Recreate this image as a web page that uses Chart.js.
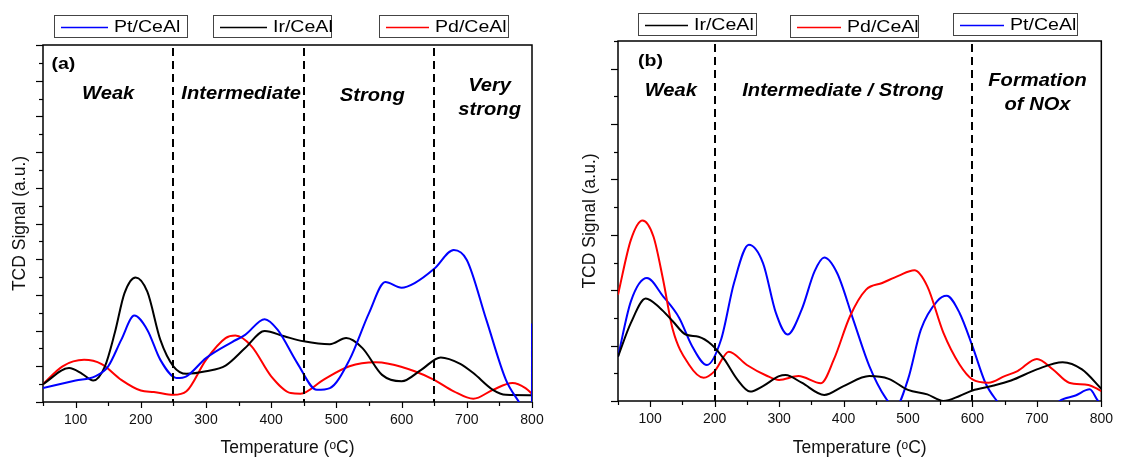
<!DOCTYPE html>
<html lang="en">
<head>
<meta charset="UTF-8" />
<title>TCD profiles</title>
<style>
  body { margin: 0; background: #fff; }
  #wrap { position: relative; width: 1123px; height: 457px; overflow: hidden; }
  #chart-a { position: absolute; left: 0; top: 0; width: 560px; height: 457px; }
  #chart-b { position: absolute; left: 560px; top: 0; width: 563px; height: 457px; }
</style>
</head>
<body>
<div id="wrap">
  <canvas id="chart-a" width="560" height="457"></canvas>
  <canvas id="chart-b" width="563" height="457"></canvas>
</div>
<script src="https://cdn.jsdelivr.net/npm/chart.js@4.4.0/dist/chart.umd.min.js"></script>
<script>
// ---- data, panel (a) ----
const aPtT = [50, 100, 130, 150, 170, 190, 210, 230, 255, 270, 300, 340, 360, 390, 410, 440, 470, 490, 520, 550, 575, 600, 620, 650, 680, 700, 730, 760, 780, 790, 799.9, 800];
const aPtY = [0.39, 0.6, 0.72, 1.0, 1.74, 2.42, 2.02, 1.18, 0.67, 0.72, 1.23, 1.68, 1.88, 2.32, 2.02, 1.09, 0.34, 0.39, 1.18, 2.49, 3.36, 3.2, 3.33, 3.73, 4.26, 3.98, 2.3, 0.62, 0, -0.3, -0.6, 2.2];
const aIrT = [50, 90, 110, 127, 145, 160, 175, 192, 210, 230, 250, 270, 300, 330, 360, 390, 420, 450, 490, 515, 540, 570, 600, 630, 660, 690, 710, 740, 760, 800];
const aIrY = [0.5, 0.95, 0.79, 0.6, 1.0, 1.93, 3.05, 3.49, 3.09, 1.74, 1.0, 0.79, 0.86, 1.02, 1.51, 1.99, 1.84, 1.7, 1.62, 1.79, 1.51, 0.76, 0.58, 0.9, 1.25, 1.07, 0.81, 0.34, 0.2, 0.19];
const aPdT = [50, 80, 113, 140, 170, 200, 220, 250, 270, 300, 330, 345, 370, 400, 430, 445, 480, 520, 560, 580, 620, 650, 680, 710, 740, 770, 790, 800];
const aPdY = [0.5, 1.0, 1.18, 1.06, 0.62, 0.32, 0.28, 0.2, 0.3, 1.18, 1.79, 1.86, 1.56, 0.72, 0.25, 0.23, 0.62, 1.0, 1.11, 1.07, 0.86, 0.62, 0.3, 0.09, 0.34, 0.53, 0.39, 0.23];
const aBounds = [250, 450, 650];
const aZones = ['Weak', 'Intermediate', 'Strong', 'Very', 'strong'];

// ---- data, panel (b) ----
const bIrT = [50, 70, 93, 115, 135, 155, 175, 195, 215, 235, 255, 275, 300, 310, 335, 370, 400, 440, 470, 500, 530, 555, 580, 600, 630, 660, 700, 740, 770, 800];
const bIrY = [0.8, 1.41, 1.85, 1.68, 1.44, 1.2, 1.16, 1.02, 0.75, 0.39, 0.17, 0.27, 0.45, 0.47, 0.33, 0.11, 0.27, 0.45, 0.4, 0.2, 0.12, 0, 0.09, 0.19, 0.27, 0.37, 0.57, 0.7, 0.57, 0.22];
const bPdT = [50, 70, 88, 105, 120, 135, 160, 183, 200, 222, 250, 280, 300, 330, 365, 385, 410, 435, 460, 485, 510, 530, 555, 580, 600, 625, 650, 670, 700, 725, 750, 780, 800];
const bPdY = [1.92, 2.91, 3.26, 2.97, 2.19, 1.29, 0.66, 0.42, 0.54, 0.89, 0.65, 0.46, 0.38, 0.45, 0.32, 0.75, 1.53, 2.01, 2.13, 2.26, 2.36, 2.07, 1.23, 0.66, 0.39, 0.33, 0.45, 0.54, 0.76, 0.57, 0.33, 0.29, 0.18];
const bPtT = [50, 70, 95, 120, 145, 165, 188, 210, 230, 253, 275, 295, 313, 335, 355, 370, 390, 415, 440, 465, 480, 500, 520, 545, 560, 580, 600, 620, 638, 660, 700, 735, 760, 782, 795, 800];
const bPtY = [0.8, 1.8, 2.22, 1.89, 1.5, 0.99, 0.65, 1.11, 2.13, 2.82, 2.49, 1.59, 1.2, 1.65, 2.34, 2.59, 2.31, 1.47, 0.63, 0.06, -0.12, 0.39, 1.29, 1.8, 1.9, 1.59, 0.99, 0.33, 0, -0.3, -0.4, 0, 0.1, 0.21, 0, -0.05];
const bBounds = [200, 600];
const bZones = ['Weak', 'Intermediate / Strong', 'Formation', 'of NOx'];

const xLabels = [100, 200, 300, 400, 500, 600, 700, 800];

const BLUE = '#0000ff', RED = '#ff0000', BLACK = '#000000';
const FONT = '"Liberation Sans", Arial, sans-serif';
const STRETCH = 1.15; // source figure is wider than tall

Chart.defaults.font.family = FONT;
Chart.defaults.color = '#111';

function pairs(xs, ys) {
  return xs.map((x, i) => ({ x: x, y: ys[i] }));
}

function series(label, xs, ys, color) {
  return {
    label: label,
    data: pairs(xs, ys),
    borderColor: color,
    borderWidth: 2,
    pointRadius: 0,
    fill: false,
    cubicInterpolationMode: 'monotone',
  };
}

function wideText(ctx, text, x, y, font, align) {
  ctx.save();
  ctx.font = font;
  ctx.textAlign = align || 'center';
  ctx.textBaseline = 'middle';
  ctx.translate(x, y);
  ctx.scale(STRETCH, 1);
  ctx.fillText(text, 0, 0);
  ctx.restore();
}

// frame and tick marks under the curves, the rest on top
const decor = {
  id: 'decor',
  beforeDatasetsDraw(chart) {
    const { ctx, chartArea: ca } = chart;
    const xs = chart.scales.x, ys = chart.scales.y;
    ctx.save();
    ctx.strokeStyle = '#000';
    ctx.lineWidth = 1.5;
    ctx.strokeRect(ca.left, ca.top, ca.right - ca.left, ca.bottom - ca.top);

    // y ticks every 0.5
    ctx.lineWidth = 1.2;
    for (let v = 0; v < ys.max + 0.01; v += 0.5) {
      const py = Math.round(ys.getPixelForValue(v)) + 0.5;
      const len = Number.isInteger(v) ? 7 : 4;
      ctx.beginPath();
      ctx.moveTo(ca.left, py);
      ctx.lineTo(ca.left - len, py);
      ctx.stroke();
    }
    // x ticks every 50
    for (let v = 50; v <= 800; v += 50) {
      const px = Math.round(xs.getPixelForValue(v)) + 0.5;
      const len = v % 100 === 0 ? 6 : 4;
      ctx.beginPath();
      ctx.moveTo(px, ca.bottom);
      ctx.lineTo(px, ca.bottom + len);
      ctx.stroke();
    }
    ctx.restore();
  },
  afterDatasetsDraw(chart, args, o) {
    const { ctx, chartArea: ca } = chart;
    const xs = chart.scales.x, ys = chart.scales.y;
    ctx.save();
    ctx.strokeStyle = '#000';

    // dashed lines
    ctx.lineWidth = 2;
    ctx.setLineDash([8, 5]);
    o.bounds.forEach((b) => {
      const px = Math.round(xs.getPixelForValue(b));
      ctx.beginPath();
      ctx.moveTo(px, ca.top + 3);
      ctx.lineTo(px, ca.bottom);
      ctx.stroke();
    });
    ctx.setLineDash([]);

    // panel letter and zone names
    ctx.fillStyle = '#000';
    const lx = xs.getPixelForValue(o.letter.x), ly = ys.getPixelForValue(o.letter.y);
    wideText(ctx, o.letter.text, lx, ly, 'bold 17px ' + FONT, 'left');
    o.zones.forEach((z) => {
      wideText(ctx, z.text, xs.getPixelForValue(z.x), ys.getPixelForValue(z.y), 'italic bold 17.5px ' + FONT);
    });

    // legend boxes
    o.legend.forEach((l) => {
      const ds = chart.data.datasets[l.ds];
      ctx.strokeStyle = '#444';
      ctx.lineWidth = 1;
      ctx.strokeRect(l.x + 0.5, l.y + 0.5, l.w, 22);
      ctx.strokeStyle = ds.borderColor;
      ctx.lineWidth = 1.5;
      ctx.beginPath();
      ctx.moveTo(l.x + 7, l.y + 12.5);
      ctx.lineTo(l.x + 7 + l.line, l.y + 12.5);
      ctx.stroke();
      ctx.fillStyle = '#000';
      wideText(ctx, ds.label, l.x + 13 + l.line, l.y + 12, '17px ' + FONT, 'left');
    });
    ctx.restore();
  },
};

function makeChart(id, datasets, yMax, yWidth, xHeight, pad, deco) {
  return new Chart(document.getElementById(id), {
    type: 'line',
    data: { datasets: datasets },
    plugins: [decor],
    options: {
      responsive: false,
      animation: false,
      devicePixelRatio: 1,
      layout: { padding: pad },
      plugins: {
        legend: { display: false },
        tooltip: { enabled: false },
        decor: deco,
      },
      scales: {
        x: {
          type: 'linear',
          min: 50,
          max: 800,
          grid: { display: false, drawTicks: false },
          border: { display: false },
          afterBuildTicks: (s) => { s.ticks = xLabels.map((v) => ({ value: v })); },
          afterFit: (s) => { s.height = xHeight; },
          ticks: { font: { size: 14 }, color: '#111', padding: 10, maxRotation: 0 },
          title: {
            display: true,
            text: 'Temperature (\u1d52C)',
            font: { size: 17.5, lineHeight: 1 },
            color: '#111',
            padding: { top: 0, bottom: 0 },
          },
        },
        y: {
          min: 0,
          max: yMax,
          grid: { display: false, drawTicks: false },
          border: { display: false },
          ticks: { display: false },
          afterFit: (s) => { s.width = yWidth; },
          title: {
            display: true,
            text: 'TCD Signal (a.u.)',
            font: { size: 17.5, lineHeight: 1 },
            color: '#111',
            padding: { top: deco.titlePad, bottom: 0 },
          },
        },
      },
    },
  });
}

makeChart(
  'chart-a',
  [
    series('Pt/CeAl', aPtT, aPtY, BLUE),
    series('Ir/CeAl', aIrT, aIrY, BLACK),
    series('Pd/CeAl', aPdT, aPdY, RED),
  ],
  10, 43, 55,
  { left: 0, right: 28, top: 45, bottom: 0 },
  {
    bounds: aBounds,
    titlePad: 11,
    letter: { text: '(a)', x: 63, y: 9.45 },
    zones: [
      { text: aZones[0], x: 150, y: 8.62 },
      { text: aZones[1], x: 354, y: 8.62 },
      { text: aZones[2], x: 555, y: 8.57 },
      { text: aZones[3], x: 735, y: 8.85 },
      { text: aZones[4], x: 735, y: 8.18 },
    ],
    legend: [
      { ds: 0, x: 54, y: 15, w: 133, line: 47 },
      { ds: 1, x: 213, y: 15, w: 118, line: 47 },
      { ds: 2, x: 379, y: 15, w: 129, line: 43 },
    ],
  }
);

makeChart(
  'chart-b',
  [
    series('Ir/CeAl', bIrT, bIrY, BLACK),
    series('Pd/CeAl', bPdT, bPdY, RED),
    series('Pt/CeAl', bPtT, bPtY, BLUE),
  ],
  6.5, 58, 56,
  { left: 0, right: 12, top: 41, bottom: 0 },
  {
    bounds: bBounds,
    titlePad: 21,
    letter: { text: '(b)', x: 81, y: 6.14 },
    zones: [
      { text: bZones[0], x: 132, y: 5.59 },
      { text: bZones[1], x: 399, y: 5.59 },
      { text: bZones[2], x: 701, y: 5.77 },
      { text: bZones[3], x: 701, y: 5.35 },
    ],
    legend: [
      { ds: 0, x: 78, y: 13, w: 118, line: 43 },
      { ds: 1, x: 230, y: 15, w: 128, line: 44 },
      { ds: 2, x: 393, y: 13, w: 124, line: 44 },
    ],
  }
);
</script>
</body>
</html>
